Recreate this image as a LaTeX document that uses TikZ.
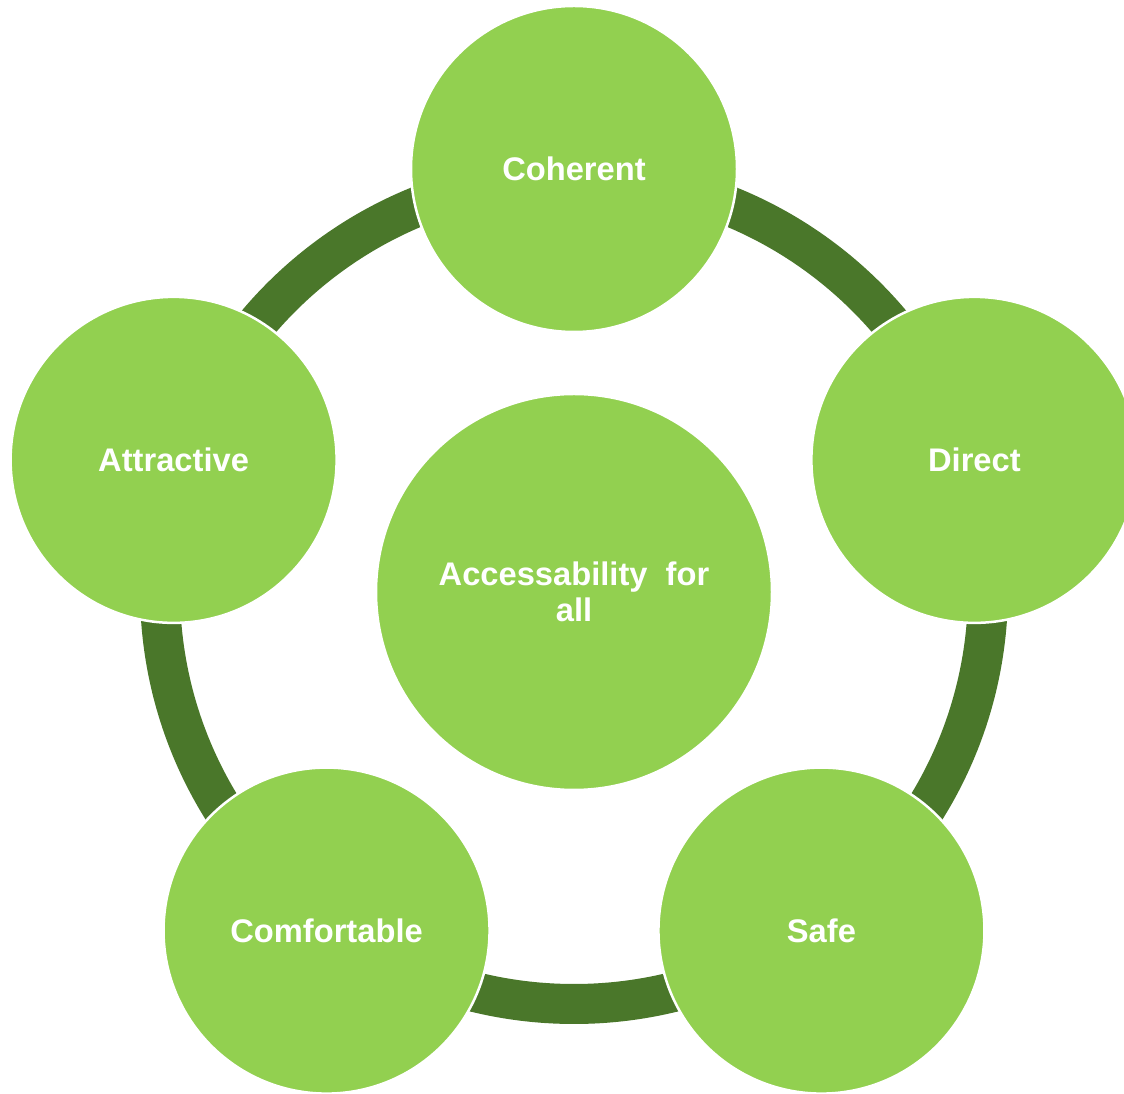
\documentclass[tikz,border=0pt]{standalone}
\usepackage{fontspec}
\setmainfont{Liberation Sans}
\usepackage{tikz}
\usetikzlibrary{calc}
\definecolor{leafgreen}{HTML}{92D050}
\definecolor{ringgreen}{HTML}{4A772A}
\tikzstyle{petal} = [circle, draw=white, line width=0.05cm, fill=leafgreen, minimum size=6.52cm, inner sep=0pt, text=white, font=\fontsize{18.6}{20}\selectfont\bfseries]
\tikzstyle{hub} = [petal, minimum size=7.92cm, align=center, font=\fontsize{18.6}{20.5}\selectfont\bfseries]

\begin{document}
\begin{tikzpicture}
    \useasboundingbox (0,0) rectangle (22.48,21.88);
    \coordinate (mid) at (11.48,10.08);
    % ring behind the circles
    \draw [ringgreen, line width=0.8cm] (mid) circle (8.28);
    \node [hub] (access) at (11.48,10.04) {Accessability\ \ for\\all};
    \node [petal] (coherent) at ($(mid)+(90:8.42)$) {Coherent};
    \node [petal] (direct) at ($(mid)+(18:8.42)$) {Direct};
    \node [petal] (safe) at ($(mid)+(-54:8.42)$) {Safe};
    \node [petal] (comfortable) at ($(mid)+(-126:8.42)$) {Comfortable};
    \node [petal] (attractive) at ($(mid)+(162:8.42)$) {Attractive};
\end{tikzpicture}
\end{document}
